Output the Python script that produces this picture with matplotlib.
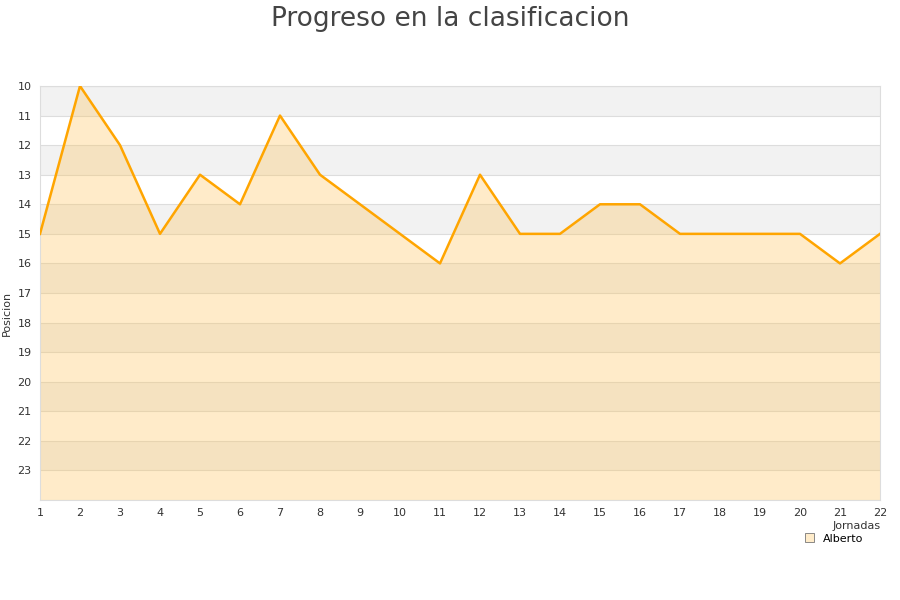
import matplotlib
matplotlib.use("Agg")
import matplotlib.pyplot as plt

jornadas = list(range(1, 23))
posicion = [15, 10, 12, 15, 13, 14, 11, 13, 14, 15, 16,
            13, 15, 15, 14, 14, 15, 15, 15, 15, 16, 15]
y_ticks = list(range(10, 24))

fig = plt.figure(figsize=(9, 6), dpi=100)
ax = fig.add_axes([40 / 900, 100 / 600, 840 / 900, 414 / 600])

# alternating background bands
for y in range(10, 24, 2):
    ax.axhspan(y, y + 1, color="#f2f2f2", zorder=0, lw=0)
for y in range(10, 25):
    ax.axhline(y, color="#dddddd", lw=0.8, zorder=1)

ax.fill_between(jornadas, posicion, 24, color="#ffc04d", alpha=0.3, lw=0, zorder=2)
ax.plot(jornadas, posicion, color="#ffa500", lw=1.8, zorder=3)

ax.set_xlim(1, 22)
ax.set_ylim(24, 10)
ax.set_xticks(jornadas)
ax.set_yticks(y_ticks)
ax.tick_params(length=0, labelsize=8, colors="#333333", pad=6)
for s in ax.spines.values():
    s.set_color("#dddddd")

ax.set_ylabel("Posicion", fontsize=8, color="#333333", labelpad=4)
ax.yaxis.set_label_coords(-0.034, 0.45)
fig.text(0.978, 0.123, "Jornadas", fontsize=8, color="#333333", ha="right", va="center")

leg = ax.legend([plt.Rectangle((0, 0), 1, 1, fc="#ffecca", ec="#777777", lw=0.6)],
                ["Alberto"], loc="upper right", bbox_to_anchor=(0.989, -0.062),
                frameon=False, fontsize=8, handlelength=0.8, handleheight=0.8,
                borderpad=0.2)

fig.suptitle("Progreso en la clasificacion", fontsize=19, color="#444444", y=0.99)

fig.savefig("out.png", dpi=100)
